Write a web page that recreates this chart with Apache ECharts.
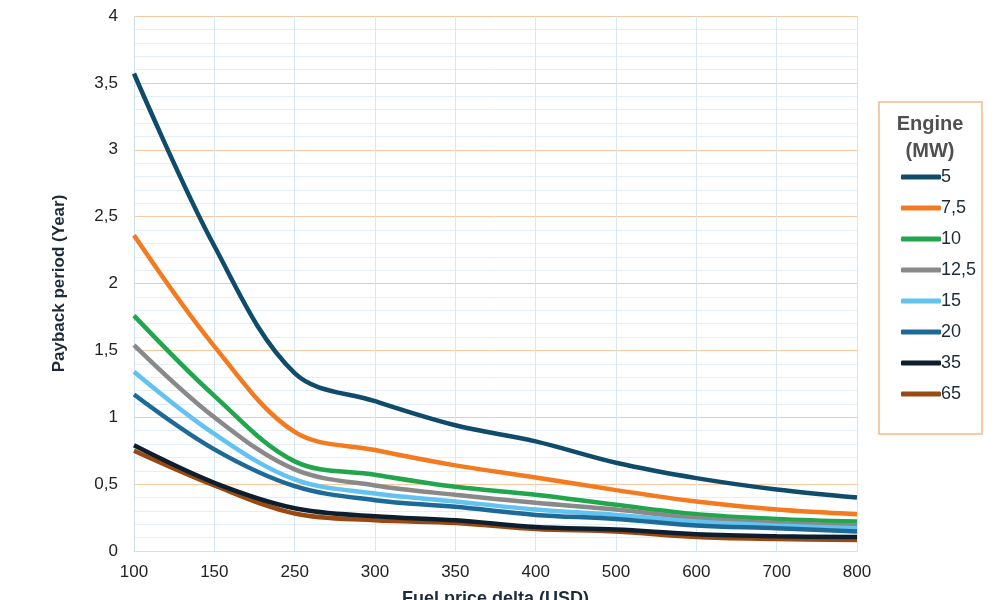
<!DOCTYPE html>
<html>
<head>
<meta charset="utf-8">
<script src="https://cdn.jsdelivr.net/npm/echarts@6/dist/echarts.min.js"></script>
<style>
  html, body { margin: 0; padding: 0; background: #fff; }
  #chart { width: 1000px; height: 600px; }
</style>
</head>
<body>
<div id="chart"></div>
<script>
// fuel price delta (USD)
const categories = ['100', '150', '250', '300', '350', '400', '500', '600', '700', '800'];

// payback period (years) per engine size
const mw5    = [3.57, 2.28, 1.33, 1.12, 0.94, 0.82, 0.66, 0.545, 0.46, 0.40];
const mw7_5  = [2.36, 1.53, 0.89, 0.755, 0.64, 0.55, 0.455, 0.37, 0.31, 0.275];
const mw10   = [1.76, 1.16, 0.67, 0.57, 0.48, 0.42, 0.345, 0.275, 0.24, 0.22];
const mw12_5 = [1.54, 1.00, 0.61, 0.49, 0.42, 0.36, 0.31, 0.245, 0.21, 0.19];
const mw15   = [1.34, 0.875, 0.535, 0.43, 0.37, 0.31, 0.27, 0.22, 0.19, 0.17];
const mw20   = [1.17, 0.76, 0.485, 0.38, 0.33, 0.27, 0.24, 0.19, 0.17, 0.145];
const mw35   = [0.79, 0.51, 0.32, 0.26, 0.23, 0.18, 0.16, 0.125, 0.11, 0.105];
const mw65   = [0.75, 0.49, 0.28, 0.23, 0.21, 0.165, 0.145, 0.105, 0.09, 0.082];

const seriesNames = ['5', '7,5', '10', '12,5', '15', '20', '35', '65'];
const seriesData = [mw5, mw7_5, mw10, mw12_5, mw15, mw20, mw35, mw65];
const colors = ['#0f4c6c', '#f47a20', '#22a64d', '#898989', '#62c2f0', '#1d6a99', '#0d1f2e', '#9a4912'];

const font = 'Liberation Sans, Arial, sans-serif';
const chart = echarts.init(document.getElementById('chart'));

const option = {
  backgroundColor: '#fff',
  textStyle: { fontFamily: font },
  grid: { left: 134, right: 143, top: 16, bottom: 49, containLabel: false, outerBoundsMode: 'none' },
  legend: {
    orient: 'vertical',
    left: 896,
    top: 163,
    itemGap: 13,
    itemWidth: 40,
    itemHeight: 5,
    icon: 'roundRect',
    textStyle: { color: '#1d2b38', fontSize: 18, padding: [0, 0, 0, -5] },
    data: seriesNames
  },
  graphic: [
    {
      type: 'rect',
      shape: { x: 879, y: 102, width: 103, height: 332 },
      style: { fill: 'none', stroke: '#f5b98a', lineWidth: 1.5 }
    },
    {
      type: 'text',
      x: 930, y: 111,
      style: {
        text: 'Engine\n(MW)',
        align: 'center',
        fill: '#505050',
        font: 'bold 20px ' + font,
        lineHeight: 27
      }
    }
  ],
  xAxis: {
    type: 'category',
    boundaryGap: false,
    data: categories,
    name: 'Fuel price delta (USD)',
    nameLocation: 'middle',
    nameGap: 39,
    nameTextStyle: { color: '#1d2b38', fontSize: 18, fontWeight: 'bold' },
    axisLine: { lineStyle: { color: '#cfe0ee' } },
    axisTick: { show: false },
    axisLabel: { color: '#222', fontSize: 17, margin: 13 },
    splitLine: { show: true, lineStyle: { color: '#d6e6f2', width: 1 } }
  },
  yAxis: {
    type: 'value',
    min: 0,
    max: 4,
    interval: 0.5,
    name: 'Payback period (Year)',
    nameLocation: 'middle',
    nameGap: 66,
    nameTextStyle: { color: '#1d2b38', fontSize: 17, fontWeight: 'bold' },
    axisLine: { show: true, lineStyle: { color: '#cfe0ee' } },
    axisTick: { show: false },
    axisLabel: {
      color: '#222',
      fontSize: 17,
      margin: 16,
      formatter: v => String(v).replace('.', ',')
    },
    splitLine: { show: true, lineStyle: { color: '#f9c7a0', width: 1 } },
    minorTick: { show: false, splitNumber: 5 },
    minorSplitLine: { show: true, lineStyle: { color: '#e3eef7', width: 1 } }
  },
  series: seriesNames.map((name, i) => ({
    name: name,
    type: 'line',
    data: seriesData[i],
    smooth: 0.35,
    symbol: 'none',
    color: colors[i],
    lineStyle: { width: 4.5, color: colors[i] },
    z: 2 + (i === 6 ? 8 : i)
  }))
};

chart.setOption(option);
</script>
</body>
</html>
